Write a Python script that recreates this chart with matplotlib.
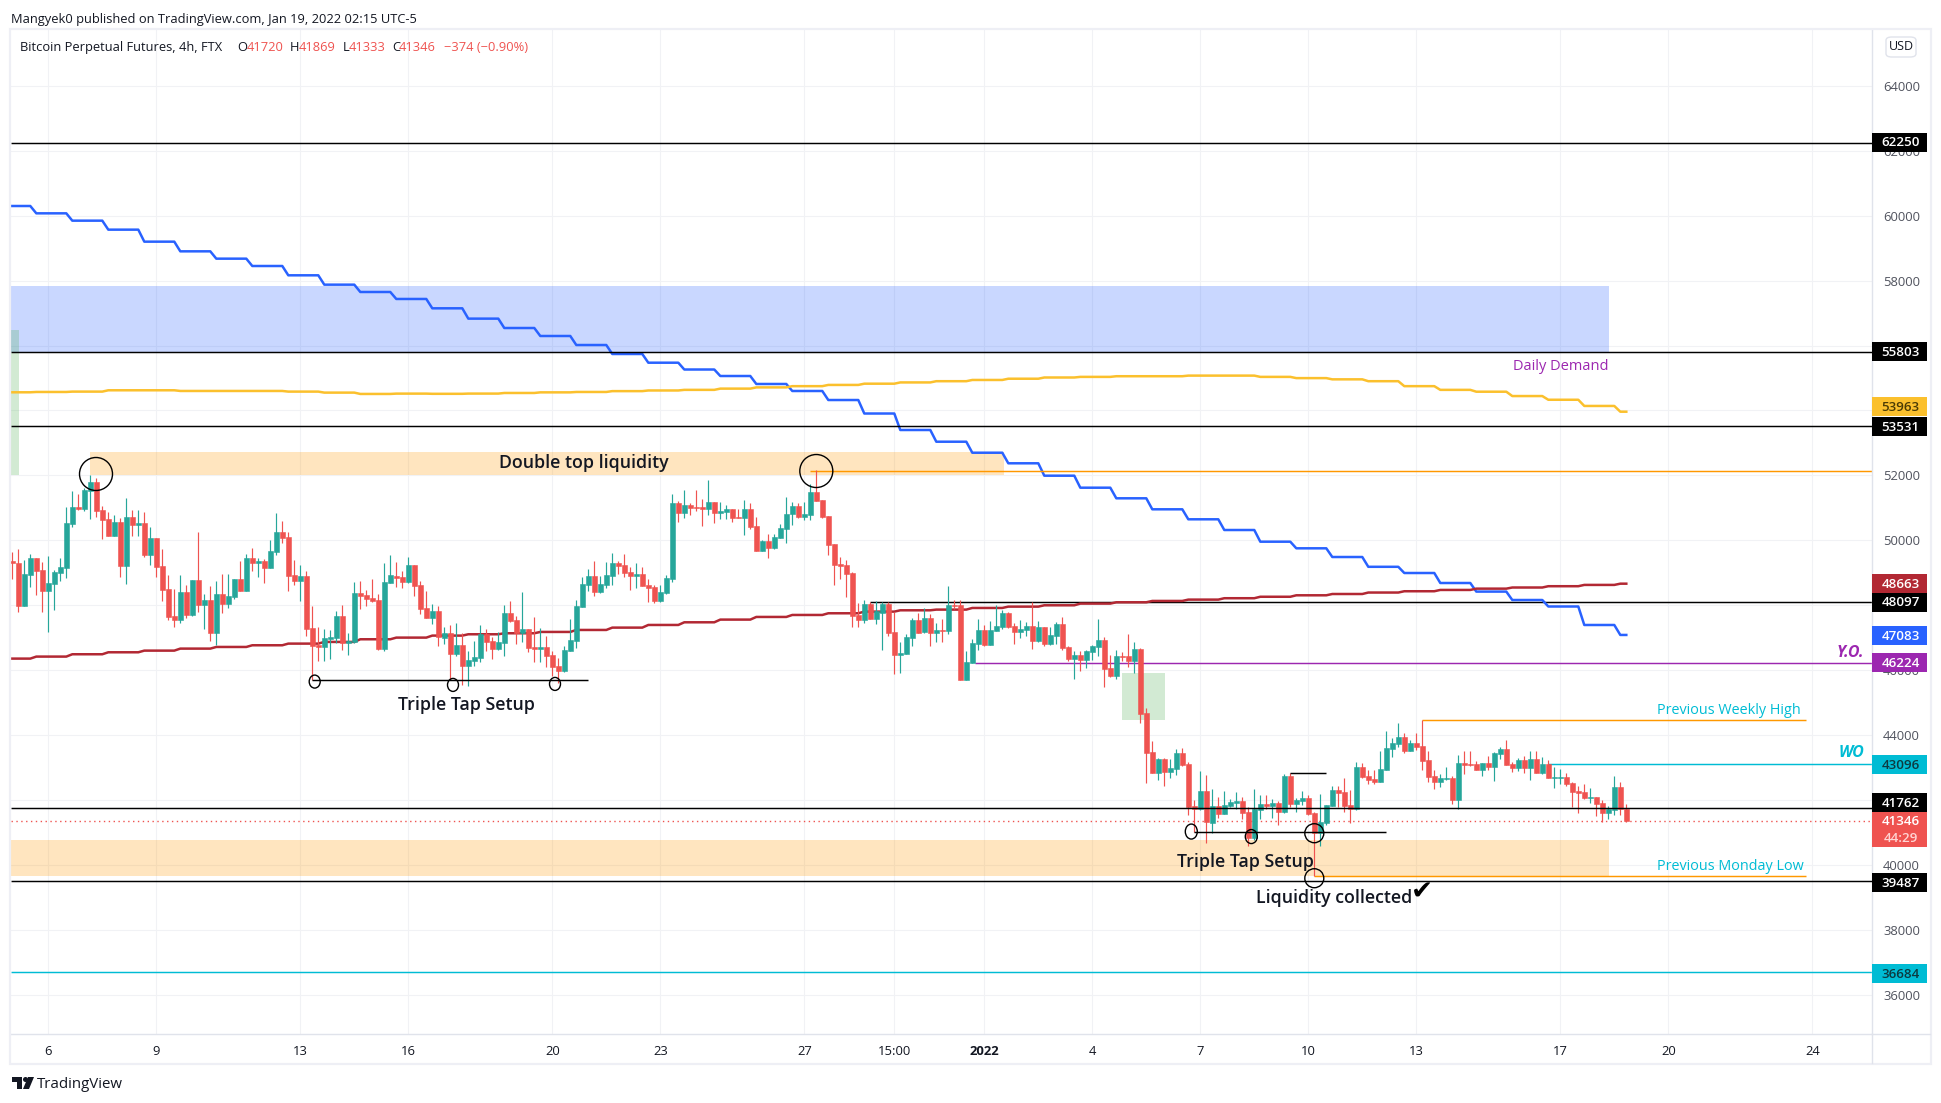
import numpy as np
import matplotlib
matplotlib.use("Agg")
import matplotlib.pyplot as plt
from matplotlib.patches import Rectangle, Ellipse, FancyBboxPatch, Polygon

# ---------- data ----------
opens = [49363,49302,47977,48932,49456,49086,48439,48655,48993,49148,50503,51027,50965,51520,51797,50935,50657,50134,50565,49209,
50719,50472,50534,49548,50072,49209,48501,47669,47545,48408,47699,48778,48007,48162,47145,48346,48038,48254,48809,48439,
49456,49302,49363,49148,49641,50257,50103,48932,48747,48901,47299,46775,46713,46960,46991,47669,46837,46868,48377,48316,
48223,48162,46652,48685,48901,48870,48716,49240,48624,47915,47607,47823,46991,47145,46498,46775,46128,46282,46375,47114,
46898,46652,46837,47761,47545,47145,47268,46713,46652,46713,46467,46128,45974,46590,46898,47946,48624,48901,48408,48624,
48901,49302,49240,49024,48901,48963,48624,48562,48131,48377,48809,51150,50842,51088,51027,51027,50965,51181,50842,50873,
50965,50719,50688,50965,50442,49671,49979,49764,50072,50349,50811,51058,50719,50780,51489,51243,50750,49887,49271,49240,
48994,47700,47546,48038,47576,47761,48038,47176,46467,46498,46991,47546,47176,47607,47145,47237,47207,48008,48008,45697,
46221,46806,47237,46775,47207,47330,47761,47361,47176,47237,47361,46898,47330,46806,47053,47422,46714,46344,46467,46313,
46560,46714,46929,46067,45820,46436,46436,46282,46652,44680,43479,42832,43263,42862,42955,43448,43109,41815,41722,42277,
41291,41815,41568,41815,41907,41969,41630,40829,41691,41876,41815,41907,41630,42739,41876,41969,42061,41599,40983,41291,
41815,42308,42246,41845,41722,43016,42739,42647,42554,42924,43571,43725,43941,43510,43756,43664,43232,42739,42555,42647,
42678,42000,43140,43109,43109,42924,43140,43017,43417,43571,43109,42986,43232,42986,43263,42832,43109,42678,42678,42709,
42524,42277,42247,42062,42092,41908,41600,41692,42400,41720]
highs = [49651,49733,49394,49579,49456,49332,49517,49086,49456,51027,51520,51427,51612,52013,51920,51058,50873,50780,50688,51304,
50935,50935,50873,50411,50072,49733,48932,48501,48932,48624,48778,50257,48346,48593,48747,48963,48963,48809,49363,49579,
49764,49456,49425,50010,50842,50596,50257,49394,49240,49055,47977,47330,47268,47237,47823,48007,47145,48716,48747,48470,
48809,48346,49302,49548,49332,49055,49487,49240,48747,48439,48038,47977,47330,47391,47453,47145,46590,46898,47391,47268,
47022,47176,48007,48131,47669,48408,47268,47638,47299,47052,46590,46375,46744,47576,48162,48870,49117,49363,48901,49332,
49610,49363,49579,49178,49302,49178,48809,48624,48624,48932,51427,51212,51551,51150,51551,51273,51859,51181,51181,51088,
50965,50965,51243,51150,50719,50010,50195,50195,50503,51335,51181,51150,51181,51736,52167,51243,50750,49887,49487,49394,
49024,48069,48162,48100,48131,48100,48100,47792,46868,47114,47607,47761,47915,47730,47453,47576,48593,48162,48162,46590,
46960,47576,47391,47515,48008,47854,47792,47453,47546,47484,48100,47515,47330,47330,47484,47638,46744,46590,46590,46621,
46775,47576,47022,46467,46621,46560,47114,46868,46683,44834,43818,43294,43294,43263,43571,43602,43170,42000,42893,42770,
42339,42092,42277,42030,42246,42092,41784,42339,42154,42154,42030,41969,42801,42832,42061,42277,42154,41630,42184,41845,
42431,42431,42677,42308,43170,43140,42924,42924,43509,44126,43910,44372,44064,43849,44064,44465,43510,42924,42801,43017,
42739,43386,43510,43510,43202,43140,43356,43479,43633,43849,43171,43294,43356,43510,43510,43325,43232,43017,42955,42832,
42555,42431,42493,42370,42092,42000,41815,42739,42555,41869]
lows = [48809,47792,47977,48562,48316,47792,47176,47853,48747,48839,50411,50935,50904,50657,50719,50041,50134,50134,48870,48655,
50134,50134,49487,49240,48870,48131,47545,47330,47453,47607,47669,47792,47268,46898,46775,47761,47915,48192,48439,48439,
49055,48870,48685,49148,49548,49918,48439,48624,48131,47052,45697,46282,46282,46344,46837,46621,46467,46837,47884,47977,
48100,46621,46590,48685,48562,48531,48685,48285,47730,47607,47422,46744,46806,45697,46436,45543,45512,46128,46251,46590,
46344,46621,46436,47484,46806,46868,46559,46251,46251,46097,45820,45604,45943,46590,46683,47946,48439,48285,48377,48531,
48624,48963,48870,48470,48531,48593,48100,48069,48100,48346,48716,50565,50688,50780,50904,50442,50780,50534,50657,50657,
50565,50688,50164,50349,49671,49671,49456,49733,50072,49918,50472,50688,50626,50626,51212,50678,49548,48624,48809,48265,
47340,47340,47453,47576,47422,46621,47053,45882,45913,46498,46744,47145,47145,46744,46868,46868,47114,47884,45697,45697,
46221,46621,46744,46775,47207,47268,47299,46806,46991,47053,46652,46868,46744,46775,46806,46621,46282,45728,45974,46067,
46313,46436,45481,45789,45728,46282,46097,45913,44372,42523,42832,42616,42431,42677,42770,43047,41537,41014,41691,40675,
40983,41445,41568,41784,41722,41414,40582,40767,41414,41722,41445,41229,41599,41784,41630,41845,41537,39658,40582,41229,
41815,41784,41630,41291,41691,42677,42493,42493,42554,42924,43325,43633,43448,43510,43541,42924,42555,42339,42400,42616,
41877,41723,42801,43047,42924,42739,42924,42585,43263,43078,42863,42893,42832,42616,42832,42801,42678,42370,42493,42431,
41784,41600,42031,41908,41507,41322,41415,41538,41538,41333]
closes = [49312,47977,48963,49456,49055,48439,48685,49024,49178,50534,51027,50965,51551,51797,50904,50626,50134,50565,49209,50719,
50472,50534,49548,50072,49178,48470,47638,47545,48408,47699,48778,48007,48162,47145,48346,48038,48285,48809,48439,49456,
49302,49363,49148,49671,50257,50072,48901,48747,48901,47268,46744,46713,46991,47022,47669,46837,46898,48377,48285,48192,
48131,46652,48716,48932,48839,48716,49240,48593,47884,47607,47823,47022,47145,46498,46775,46128,46313,46405,47114,46868,
46652,46868,47761,47515,47145,47268,46683,46652,46713,46436,46097,45974,46621,46929,47977,48655,48901,48408,48655,48932,
49302,49209,48993,48901,48963,48593,48531,48131,48408,48839,51150,50842,51088,50996,50996,50965,51181,50842,50904,50965,
50688,50688,50965,50411,49671,49979,49764,50103,50380,50811,51058,50719,50811,51489,51212,50708,49856,49240,49209,48963,
47669,47546,48038,47576,47823,48038,47145,46467,46529,47022,47546,47145,47607,47145,47237,47207,48008,47977,45697,46251,
46837,47237,46775,47237,47361,47761,47330,47176,47268,47361,46898,47330,46806,47083,47422,46683,46344,46467,46313,46590,
46744,46929,46036,45820,46436,46406,46282,46652,44649,43448,42832,43263,42862,42986,43448,43078,41784,41722,42277,41322,
41815,41568,41845,41938,41969,41599,40829,41722,41876,41815,41907,41630,42739,41876,42000,42061,41568,40983,41322,41845,
42308,42215,41815,41722,43016,42708,42616,42554,42955,43602,43756,43941,43510,43756,43633,43202,42709,42555,42678,42678,
42000,43140,43078,43078,42924,43140,43017,43448,43571,43078,42986,43232,42986,43263,42832,43109,42678,42709,42709,42493,
42247,42216,42062,42092,41877,41600,41723,42400,41723,41346]

# moving averages, one level per daily step
ma_blue_levels = [60302,60076,59850,59573,59203,58905,58679,58453,58166,57878,57652,57437,57149,56831,56542,56296,
56018,55741,55473,55263,55063,54817,54601,54323,53907,53399,53038,52699,52373,51991,51621,51294,
50955,50647,50317,49957,49753,49485,49183,48992,48684,48419,48160,47960,47390,47083]
ma_yellow_levels = [54561,54571,54582,54623,54623,54602,54602,54602,54582,54551,54510,54520,54514,54521,54540,54559,
54571,54597,54617,54636,54674,54712,54750,54788,54826,54865,54903,54941,54979,55017,55036,55056,
55056,55075,55075,55036,54998,54960,54903,54750,54636,54579,54445,54331,54140,53963]
ma_red_levels = [46354,46416,46488,46549,46600,46662,46713,46765,46816,46868,46950,47001,47063,47104,47135,47176,
47237,47309,47391,47473,47556,47638,47699,47751,47802,47843,47864,47915,47956,47997,48049,48090,
48131,48172,48215,48260,48305,48345,48390,48430,48470,48510,48545,48585,48625,48663]
step_counts = [4] + [6]*44 + [2]

ytick_values = list(range(36000, 64001, 2000))
xtick_positions = [6,24,48,66,90,108,132,147,162,180,198,216,234,258,276,300]
xtick_labels = ["6","9","13","16","20","23","27","15:00","2022","4","7","10","13","17","20","24"]

black_levels = [62250,55803,53531,41762,39487]
level_48097 = 48097
level_yo = 46224
level_wo = 43096
level_36684 = 36684
level_last = 41346
level_top_high = 52150
level_weekly_high = 44453
level_monday_low = 39645
triple_1 = 45686
triple_2 = 41003
short_black = 42821

tag_values = [62250,55803,53963,53531,48663,48097,47083,46224,43096,41762,39487,36684]
tag_backs = ["#000000","#000000","#fbc02d","#000000","#b22833","#000000","#2962ff","#9c27b0","#00bcd4","#000000","#000000","#00bcd4"]
tag_inks = ["#ffffff","#ffffff","#4a3b05","#ffffff","#ffffff","#ffffff","#ffffff","#ffffff","#0d3a40","#ffffff","#ffffff","#0d3a40"]
tag_lift_px = [0.5,0,5,-1,0,0,-1,0,0,5,-1,-1]

# ---------- figure ----------
W, H = 1941, 1103
UP, DOWN = "#26a69a", "#ef5350"
INK = "#131722"
PX = 30.817   # price units per pixel
plt.rcParams["font.family"] = ["Open Sans", "DejaVu Sans"]
fig = plt.figure(figsize=(W/100, H/100), dpi=100, facecolor="white")
L, R, T, B = 11, 1872, 30, 1033.5
ax = fig.add_axes([L/W, 1-B/H, (R-L)/W, (B-T)/H], facecolor="white")
ax.set_xlim((L-12.3)/6, (R-12.3)/6)
ax.set_ylim(64000-PX*(B-86), 64000+PX*(86-T))
ax.yaxis.tick_right()
ax.set_yticks(ytick_values)
ax.set_yticklabels([str(v) for v in ytick_values])
ax.set_xticks(xtick_positions)
ax.set_xticklabels(xtick_labels)
ax.tick_params(axis="both", length=0, labelsize=9.4)
ax.tick_params(axis="y", pad=8, labelcolor="#50535e")
ax.tick_params(axis="x", pad=8, labelcolor=INK)
for t, s in zip(ax.get_xticklabels(), xtick_labels):
    if s == "2022":
        t.set_fontweight("bold")
ax.grid(True, color="#f1f2f5", lw=0.8, zorder=0)
ax.set_axisbelow(True)
for s in ax.spines.values():
    s.set_color("#e0e3eb"); s.set_linewidth(1)
ax.spines["left"].set_visible(False)
ax.spines["top"].set_visible(False)

# zones
n = len(opens)
x = np.arange(n)
xl = ax.get_xlim()
ax.add_patch(Rectangle((xl[0], 55803), 266.1-xl[0], 57837-55803, fc="#2962ff", alpha=.25, lw=0, zorder=1))
ax.add_patch(Rectangle((xl[0], 52013), 1.33, 56481-52013, fc="#4caf50", alpha=.25, lw=0, zorder=1.1))
ax.add_patch(Rectangle((12.95, 52013), 165.2-12.95, 52721-52013, fc="#ff9800", alpha=.25, lw=0, zorder=1))
ax.add_patch(Rectangle((185, 44465), 7.1, 45913-44465, fc="#4caf50", alpha=.25, lw=0, zorder=1))
ax.add_patch(Rectangle((xl[0], 39658), 266.1-xl[0], 40767-39658, fc="#ff9800", alpha=.25, lw=0, zorder=1))

# moving averages
for levels, col in ((ma_blue_levels, "#2962ff"), (ma_yellow_levels, "#fbc02d"), (ma_red_levels, "#b22833")):
    ax.plot(x, np.repeat(levels, step_counts), color=col, lw=1.8, zorder=2, solid_joinstyle="round")

# candles
o, h, l, c = map(np.array, (opens, highs, lows, closes))
cols = np.where(c >= o, UP, DOWN)
ax.vlines(x, l, h, colors=cols, lw=0.85, zorder=3)
ax.bar(x, np.abs(c-o), bottom=np.minimum(o, c), width=0.8, color=cols, edgecolor=cols, lw=0.4, zorder=3)

# level lines
for v in black_levels:
    ax.hlines(v, xl[0], xl[1], color="black", lw=1.05, zorder=4)
ax.hlines(level_48097, 143, xl[1], color="black", lw=1.05, zorder=1.9)
ax.hlines(level_yo, 160.4, xl[1], color="#9c27b0", lw=1.05, zorder=2.5)
ax.hlines(level_wo, 256, xl[1], color="#00bcd4", lw=1.05, zorder=2.5)
ax.hlines(level_36684, xl[0], xl[1], color="#00bcd4", lw=1.05, zorder=2.5)
ax.hlines(level_last, xl[0], xl[1], color=DOWN, lw=1, ls=(0, (1, 2.5)), zorder=2.5)
ax.hlines(level_top_high, 133, xl[1], color="#ff9800", lw=1.05, zorder=2.5)
ax.hlines(level_weekly_high, 235, 298.9, color="#ff9800", lw=1.05, zorder=2.5)
ax.hlines(level_monday_low, 217, 298.9, color="#ff9800", lw=1.05, zorder=2.5)
ax.hlines(triple_1, 50, 96, color="black", lw=1.05, zorder=4)
ax.hlines(triple_2, 197, 229, color="black", lw=1.05, zorder=4)
ax.hlines(short_black, 213, 219, color="black", lw=1.05, zorder=4)

# circles around the taps
for cx, cy, w_px, h_px in [(13.95,52043,33,33),(134,52135,33,33),(50.4,45646,11,13),(73.45,45543,11,13),
                           (90.45,45574,11,13),(196.5,41024,12,15),(206.5,40870,12,14),(217,40973,19,19),(217,39586,19,19)]:
    ax.add_patch(Ellipse((cx, cy), w_px/6, h_px*PX, fill=False, ec="black", lw=1, zorder=5))

# annotations
NOTE = dict(color=INK, ha="center", va="center", zorder=6, fontsize=12.8, fontweight=600)
ax.text(95.3, 52444-70, "Double top liquidity", **NOTE)
ax.text(75.7, 44986-70, "Triple Tap Setup", **NOTE)
ax.text(205.6, 40148-70, "Triple Tap Setup", **NOTE)
ax.text(220.3, 39038-70, "Liquidity collected", **NOTE)
ax.text(234.9, 39161, "\u2714", fontsize=19, color="black", ha="center", va="center", zorder=6, family="DejaVu Sans")
ax.text(266, 55433-70, "Daily Demand", fontsize=10.5, color="#9c27b0", ha="right", va="center", zorder=6)
ax.text(274.1, 44801-40, "Previous Weekly High", fontsize=10.4, color="#00bcd4", ha="left", va="center", zorder=6)
ax.text(274.1, 39994-60, "Previous Monday Low", fontsize=10.4, color="#00bcd4", ha="left", va="center", zorder=6)
ax.text(308.6, 46601-60, "Y.O.", fontsize=11.5, color="#9c27b0", ha="right", va="center", fontweight="bold", style="italic", zorder=6)
ax.text(308.7, 43476-40, "WO", fontsize=11.5, color="#00bcd4", ha="right", va="center", fontweight="bold", style="italic", zorder=6)

# price tags on the axis
ty = ax.get_yaxis_transform()
tag_w = (1926.7-R)/(R-L)
tag_h = 19*PX
for v, bg, fg, lift in zip(tag_values, tag_backs, tag_inks, tag_lift_px):
    yc = v + lift*PX
    ax.add_patch(Rectangle((1.0, yc-tag_h/2), tag_w, tag_h, transform=ty, fc=bg, ec="none", clip_on=False, zorder=8))
    ax.text(1.0+tag_w*0.52, yc-0.7*PX, str(v), transform=ty, color=fg, fontsize=9.6, fontweight=600, ha="center", va="center", clip_on=False, zorder=9)
last_top = level_last + 9*PX
ax.add_patch(Rectangle((1.0, last_top-34.5*PX), tag_w, 34.5*PX, transform=ty, fc=DOWN, ec="none", clip_on=False, zorder=8))
ax.text(1.0+tag_w*0.52, level_last-0.7*PX, str(level_last), transform=ty, color="white", fontsize=9.6, fontweight=600, ha="center", va="center", clip_on=False, zorder=9)
ax.text(1.0+tag_w*0.52, level_last-17*PX, "44:29", transform=ty, color="#ffd5d3", fontsize=9.6, fontweight=600, ha="center", va="center", clip_on=False, zorder=9)

# frame, header and footer in figure pixels
fx = lambda p: p/W
fy = lambda p: 1-p/H
frame = "#eeeff5"
fig.add_artist(Rectangle((fx(10), fy(1063.5)), fx(1931-10), (1063.5-29)/H, transform=fig.transFigure, fill=False, ec=frame, lw=1.6))
fig.add_artist(plt.Line2D([fx(R), fx(R)], [fy(B), fy(1063)], transform=fig.transFigure, color="#e0e3eb", lw=1))
fig.add_artist(plt.Line2D([fx(R), fx(1930)], [fy(B), fy(B)], transform=fig.transFigure, color="#e0e3eb", lw=1))
fig.text(fx(11), fy(19), "Mangyek0 published on TradingView.com, Jan 19, 2022 02:15 UTC-5", fontsize=9.3, color=INK, va="center", ha="left")
fig.text(fx(20), fy(47.5), "Bitcoin Perpetual Futures, 4h, FTX", fontsize=9.3, color=INK, va="center", ha="left", zorder=10)
for px, s, col in [(237,"O",INK),(247,"41720",DOWN),(290,"H",INK),(299,"41869",DOWN),(342.5,"L",INK),(349,"41333",DOWN),
                   (392,"C",INK),(399,"41346",DOWN),(444,"\u2212374 (\u22120.90%)",DOWN)]:
    fig.text(fx(px), fy(47.5), s, fontsize=9.3, color=col, va="center", ha="left", zorder=10)
fig.add_artist(FancyBboxPatch((fx(1886), fy(57)), fx(30), 20/H, boxstyle="round,pad=0,rounding_size=0.003",
                              transform=fig.transFigure, fc="white", ec="#e0e3eb", lw=1))
fig.text(fx(1901), fy(47), "USD", fontsize=9, color=INK, ha="center", va="center", zorder=10)
# TradingView mark
fig.add_artist(Polygon([(fx(12),fy(1077)),(fx(22),fy(1077)),(fx(22),fy(1089)),(fx(17),fy(1089)),(fx(17),fy(1082)),(fx(12),fy(1082))],
                       transform=fig.transFigure, fc=INK, ec="none"))
fig.add_artist(Ellipse((fx(25.5),fy(1079.5)), 5/W, 5/H, transform=fig.transFigure, fc=INK, ec="none"))
fig.add_artist(Polygon([(fx(28),fy(1077)),(fx(34),fy(1077)),(fx(29),fy(1089)),(fx(23),fy(1089))],
                       transform=fig.transFigure, fc=INK, ec="none"))
fig.text(fx(37), fy(1085), "TradingView", fontsize=10.8, color=INK, ha="left", va="center")

fig.savefig("out.png", dpi=100)
